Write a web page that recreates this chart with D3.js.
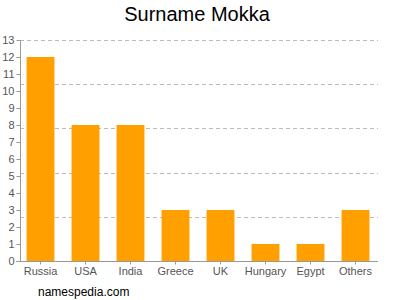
<!DOCTYPE html>
<html><head><meta charset="utf-8">
<script src="https://cdn.jsdelivr.net/npm/d3@7"></script>
<style>body{margin:0;background:#fff}svg{display:block;font-family:"Liberation Sans",Arial,sans-serif}</style>
</head><body><svg id="c" width="400" height="300"></svg>
<script>
const categories = ["Russia","USA","India","Greece","UK","Hungary","Egypt","Others"];
const values = [12,8,8,3,3,1,1,3];
const yTicks = [0,1,2,3,4,5,6,7,8,9,10,11,12,13];
const gridValues = [2.6,5.2,7.8,10.4,13];
const title = "Surname Mokka";
const credit = "namespedia.com";

const svg = d3.select("#c");
const x = d3.scaleBand().domain(categories).range([18,378]).paddingInner(0.38).paddingOuter(0.19);
const y = d3.scaleLinear().domain([0,13]).range([261,40]);

svg.append("g").selectAll("line").data(gridValues).join("line")
  .attr("x1",20).attr("x2",378).attr("y1",d=>Math.round(y(d))+0.5).attr("y2",d=>Math.round(y(d))+0.5)
  .attr("stroke","#bbb").attr("stroke-dasharray","4,3");

svg.append("g").selectAll("rect").data(values).join("rect")
  .attr("x",(d,i)=>x(categories[i])).attr("width",x.bandwidth())
  .attr("y",d=>y(d)).attr("height",d=>y(0)-y(d)).attr("fill","#FFA000");

const ya = svg.append("g").attr("transform","translate(20.5,0)")
  .call(d3.axisLeft(y).tickValues(yTicks).tickSize(4).tickPadding(2).tickFormat(d3.format("d")));
ya.select(".domain").attr("stroke","#999").attr("d","M0,40V261.5");
ya.selectAll(".tick line").attr("stroke","#999");
ya.selectAll("text").attr("fill","#555").attr("font-size",11);

const xa = svg.append("g").attr("transform","translate(0,261.5)")
  .call(d3.axisBottom(x).tickSize(3).tickPadding(3));
xa.select(".domain").attr("stroke","#999").attr("d","M16,0H378");
xa.selectAll(".tick line").attr("stroke","#999");
xa.selectAll("text").attr("fill","#555").attr("font-size",11);

svg.append("text").attr("x",197).attr("y",21).attr("text-anchor","middle")
  .attr("font-size",20).attr("fill","#000").text(title);
svg.append("text").attr("x",38).attr("y",296).attr("font-size",12).attr("fill","#000").text(credit);
</script></body></html>
